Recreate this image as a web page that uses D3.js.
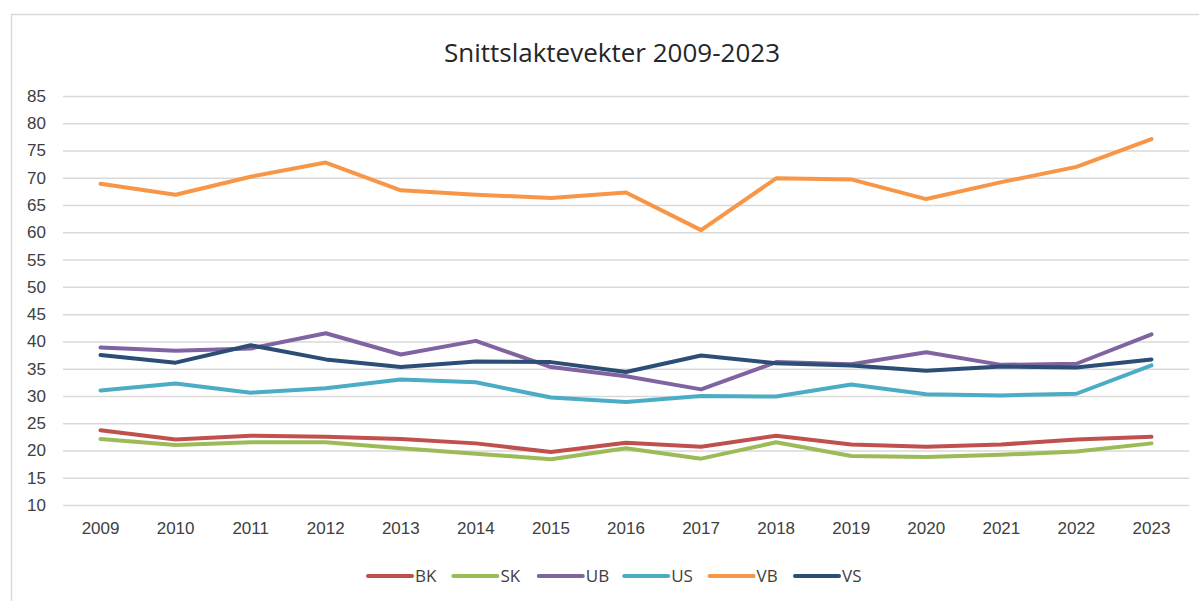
<!DOCTYPE html>
<html>
<head>
<meta charset="utf-8">
<script src="https://cdn.jsdelivr.net/npm/d3@7"></script>
<style>
  body { margin: 0; background: #fff; }
  svg { display: block; font-family: 'Open Sans', sans-serif; }
</style>
</head>
<body>
<div class="js-canvas"></div>
<script>
'use strict';

// data
const years = ['2009', '2010', '2011', '2012', '2013', '2014', '2015', '2016',
    '2017', '2018', '2019', '2020', '2021', '2022', '2023'];
const seriesNames = ['BK', 'SK', 'UB', 'US', 'VB', 'VS'];
const BK = [23.7, 22.0, 22.7, 22.5, 22.1, 21.3, 19.7, 21.4, 20.7, 22.7, 21.1, 20.7, 21.1, 22.0, 22.5];
const SK = [22.1, 21.0, 21.5, 21.5, 20.4, 19.4, 18.4, 20.4, 18.5, 21.5, 19.0, 18.8, 19.2, 19.8, 21.3];
const UB = [38.9, 38.3, 38.7, 41.5, 37.6, 40.1, 35.3, 33.6, 31.2, 36.2, 35.8, 38.0, 35.7, 35.9, 41.3];
const US = [31.0, 32.3, 30.6, 31.4, 33.0, 32.5, 29.7, 28.9, 30.0, 29.9, 32.1, 30.3, 30.1, 30.4, 35.6];
const VB = [68.9, 66.9, 70.2, 72.8, 67.7, 66.9, 66.3, 67.3, 60.4, 69.9, 69.7, 66.1, 69.2, 72.0, 77.1];
const VS = [37.5, 36.1, 39.3, 36.7, 35.3, 36.3, 36.2, 34.4, 37.4, 36.0, 35.6, 34.6, 35.4, 35.2, 36.7];
const yTicks = [10, 15, 20, 25, 30, 35, 40, 45, 50, 55, 60, 65, 70, 75, 80, 85];
const title = 'Snittslaktevekter 2009-2023';

const config = {
    width: 1199,
    height: 601,
    plot: { left: 63, right: 1189, top: 96, bottom: 505 },
    colors: {
        BK: '#c0504d',
        SK: '#9bbb59',
        UB: '#8064a2',
        US: '#4bacc6',
        VB: '#f79646',
        VS: '#2c4d75'
    }
};

const values = { BK, SK, UB, US, VB, VS };
const series = seriesNames.map(name => ({
    name,
    points: years.map((year, i) => ({ year, value: values[name][i] }))
}));

const svg = d3.select('.js-canvas')
    .append('svg')
    .attr('width', config.width)
    .attr('height', config.height);

// chart frame (only top and left edges are inside the picture)
svg.append('rect')
    .attr('x', 11.5)
    .attr('y', 14.5)
    .attr('width', 1300)
    .attr('height', 700)
    .attr('fill', 'none')
    .attr('stroke', '#d9d9d9')
    .attr('stroke-width', 1.5);

const x = d3.scaleBand()
    .domain(years)
    .range([config.plot.left, config.plot.right]);

const y = d3.scaleLinear()
    .domain([10, 85])
    .range([config.plot.bottom, config.plot.top]);

const cx = d => x(d) + x.bandwidth() / 2;

// gridlines + y labels
const yAxis = d3.axisLeft(y)
    .tickValues(yTicks)
    .tickSize(-(config.plot.right - config.plot.left))
    .tickPadding(17);

const yAxisGroup = svg.append('g')
    .attr('transform', `translate(${config.plot.left}, 0)`)
    .call(yAxis);

yAxisGroup.select('.domain').remove();
yAxisGroup.selectAll('line')
    .attr('stroke', '#d9d9d9')
    .attr('stroke-width', 1.5);
yAxisGroup.selectAll('text')
    .attr('fill', '#404040')
    .style('font-size', '17px');

// x labels
const xAxis = d3.axisBottom(x).tickSize(0).tickPadding(17);
const xAxisGroup = svg.append('g')
    .attr('transform', `translate(0, ${config.plot.bottom})`)
    .call(xAxis);
xAxisGroup.select('.domain').remove();
xAxisGroup.selectAll('text')
    .attr('fill', '#404040')
    .style('font-size', '17px');

// lines
const line = d3.line()
    .x(d => cx(d.year))
    .y(d => y(d.value));

svg.append('g')
    .selectAll('path')
    .data(series)
    .enter()
    .append('path')
    .attr('d', d => line(d.points))
    .attr('fill', 'none')
    .attr('stroke', d => config.colors[d.name])
    .attr('stroke-width', 4)
    .attr('stroke-linejoin', 'round')
    .attr('stroke-linecap', 'round');

// title
svg.append('text')
    .attr('x', 612)
    .attr('y', 62)
    .attr('text-anchor', 'middle')
    .attr('fill', '#262626')
    .style('font-size', '26px')
    .text(title);

// legend
const legendX = d3.scalePoint()
    .domain(seriesNames)
    .range([368, 795]);

const legend = svg.append('g')
    .selectAll('g')
    .data(seriesNames)
    .enter()
    .append('g')
    .attr('transform', d => `translate(${legendX(d)}, 576)`);

legend.append('line')
    .attr('x1', 0)
    .attr('x2', 44)
    .attr('stroke', d => config.colors[d])
    .attr('stroke-width', 4)
    .attr('stroke-linecap', 'round');

legend.append('text')
    .attr('x', 47)
    .attr('dy', '0.35em')
    .attr('fill', '#404040')
    .style('font-size', '17px')
    .text(d => d);
</script>
</body>
</html>
